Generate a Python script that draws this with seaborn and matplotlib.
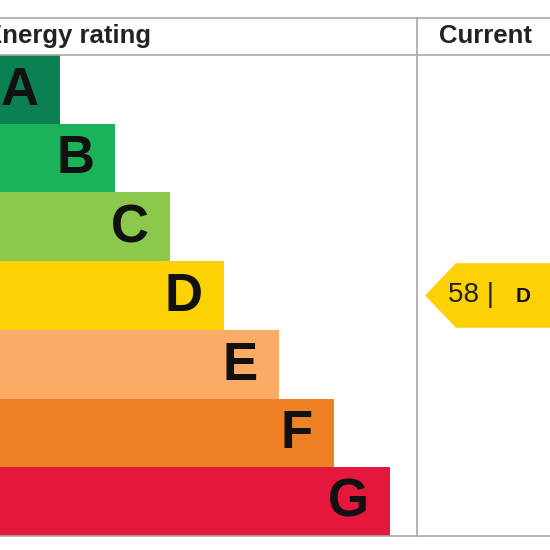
import numpy as np
import pandas as pd
import matplotlib
matplotlib.use("Agg")
import matplotlib.pyplot as plt
from matplotlib.patches import Polygon
import seaborn as sns

# EPC bands, bar lengths (chart px units), colours
bands = ["A", "B", "C", "D", "E", "F", "G"]
bar_length = [60, 115, 170, 224, 279, 334, 390]
band_colors = ["#0b8052", "#1bb35a", "#8cc84b", "#fdd104", "#fbab66", "#ee8125", "#e5173c"]
current_score = 58
current_band = "D"

sns.set_theme(style="white")
plt.rcParams["font.family"] = ["Liberation Sans", "DejaVu Sans"]

data = pd.DataFrame({"band": bands, "length": bar_length})

fig = plt.figure(figsize=(5.5, 5.5), dpi=100)
ax = fig.add_axes([0, 0, 1, 1])

sns.barplot(data=data, x="length", y="band", hue="band", palette=band_colors,
            orient="h", width=1.0, legend=False, ax=ax, linewidth=0, saturation=1)

# letters inside bars
for i, (b, l) in enumerate(zip(bands, bar_length)):
    ax.text(l - 21, i + 0.02, b, ha="right", va="center", fontsize=38,
            fontweight="bold", color="#111111")

# grid lines of the table
line_col = "#a8a8a8"
top = -1.04
ax.axhline(top, color=line_col, lw=1.2)
ax.axhline(-0.5, color=line_col, lw=1.2)
ax.axhline(6.5, color=line_col, lw=1.2)
ax.plot([417, 417], [top, 6.5], color=line_col, lw=1.2)

# header
ax.text(-15, -0.77, "Energy rating", ha="left", va="center", fontsize=18.5,
        fontweight="bold", color="#222222")
ax.text(486, -0.77, "Current", ha="center", va="center", fontsize=18.5,
        fontweight="bold", color="#222222")

# current rating arrow
idx = bands.index(current_band)
y0, y1 = idx - 0.47, idx + 0.47
arrow = Polygon([[425, idx], [456, y0], [560, y0], [560, y1], [456, y1]],
                closed=True, facecolor=band_colors[idx], edgecolor="none")
ax.add_patch(arrow)
ax.text(448, idx, f"{current_score} |", ha="left", va="center", fontsize=20,
        color="#222222")
ax.text(516, idx + 0.02, current_band, ha="left", va="center", fontsize=15,
        fontweight="bold", color="#111111")

ax.set_xlim(0, 550)
ax.set_ylim(6.705, -1.30)
ax.set_axis_off()

fig.savefig("out.png", dpi=100, facecolor="white")
